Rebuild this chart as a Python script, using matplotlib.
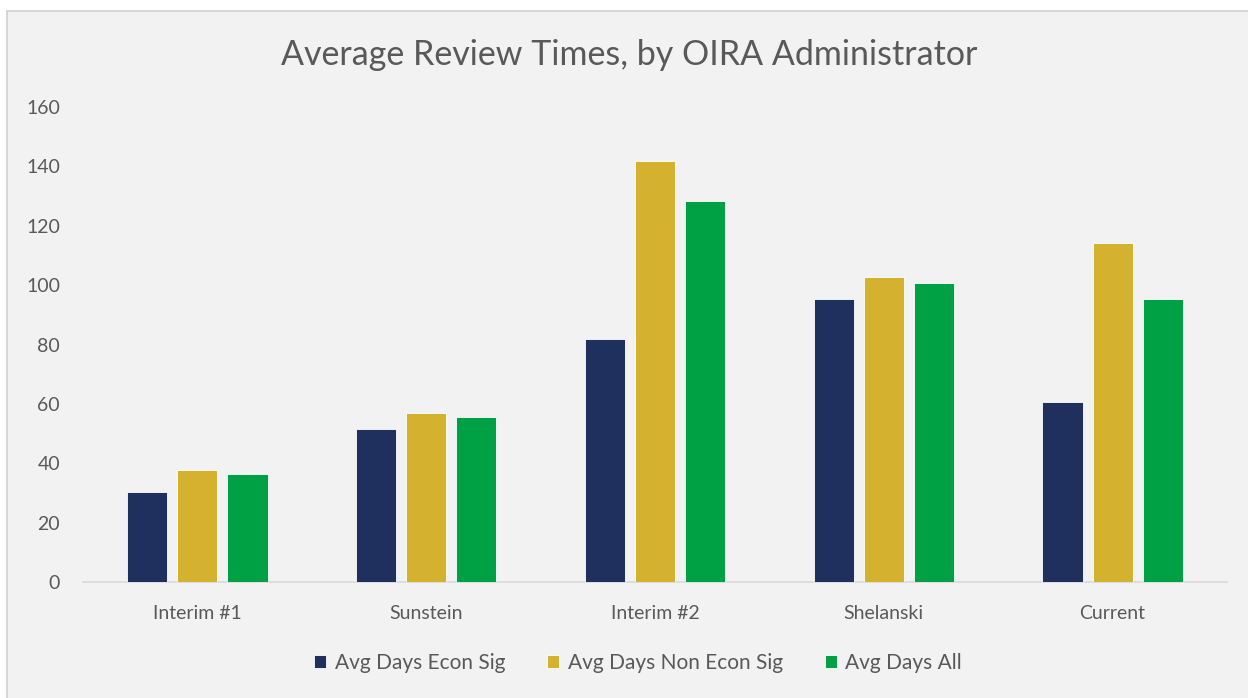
import numpy as np
import matplotlib
matplotlib.use('Agg')
import matplotlib.pyplot as plt
from matplotlib.patches import Rectangle

# ---------------------------------------------------------------------------
administrators = ['Interim #1', 'Sunstein', 'Interim #2', 'Shelanski', 'Current']
econ_sig       = [30.4, 51.4, 81.7, 95.3, 60.7]
non_econ_sig   = [37.8, 56.8, 141.8, 102.6, 114.1]
all_days       = [36.5, 55.5, 128.3, 100.6, 95.2]
series_names   = ['Avg Days Econ Sig', 'Avg Days Non Econ Sig', 'Avg Days All']
colors         = ['#1f2f5e', '#d4b12e', '#00a044']
y_ticks        = [0, 20, 40, 60, 80, 100, 120, 140, 160]

BG   = '#f2f2f2'
TXT  = '#595959'
FONT = ['Lato', 'DejaVu Sans']

plt.rcParams['font.family'] = FONT

W, H = 1248, 698
fig = plt.figure(figsize=(W / 100, H / 100), dpi=100)
fig.patch.set_facecolor('white')

# chart frame (runs past right/bottom edges like the screenshot)
fig.patches.append(Rectangle((7 / W, -0.2), 1.5, 1.2 - 11 / H, transform=fig.transFigure,
                             facecolor=BG, edgecolor='#d0d0d0', lw=1.2, zorder=-5))

ax = fig.add_axes([83 / W, 1 - 582 / H, (1227 - 83) / W, (582 - 107) / H])
ax.set_facecolor('none')

x = np.arange(len(administrators))
width = 0.175
step = 0.219
for i, (vals, name, c) in enumerate(zip([econ_sig, non_econ_sig, all_days], series_names, colors)):
    ax.bar(x + (i - 1) * step, vals, width, color=c, label=name,
           edgecolor='#ffffff', linewidth=0.6, zorder=3)

ax.set_xlim(-0.5, len(administrators) - 0.5)
ax.set_ylim(0, 160)
ax.set_yticks(y_ticks)
ax.set_xticks(x)
ax.set_xticklabels(administrators)
ax.tick_params(axis='y', length=0, pad=16.5, labelsize=14, labelcolor=TXT)
ax.tick_params(axis='x', length=0, pad=16.5, labelsize=14, labelcolor=TXT)

for s in ['top', 'right', 'left']:
    ax.spines[s].set_visible(False)
ax.spines['bottom'].set_color('#d9d9d9')
ax.spines['bottom'].set_linewidth(1.2)

fig.text(629 / W, 1 - 55 / H, 'Average Review Times, by OIRA Administrator',
         ha='center', va='center', fontsize=24.5, color=TXT)

leg = fig.legend(loc='center', bbox_to_anchor=(638 / W, 1 - 663 / H), ncol=3,
                 frameon=False, fontsize=15, handlelength=0.6, handleheight=0.6,
                 handletextpad=0.4, columnspacing=2.0, labelcolor=TXT)

fig.savefig('out.png', dpi=100, facecolor='white')
